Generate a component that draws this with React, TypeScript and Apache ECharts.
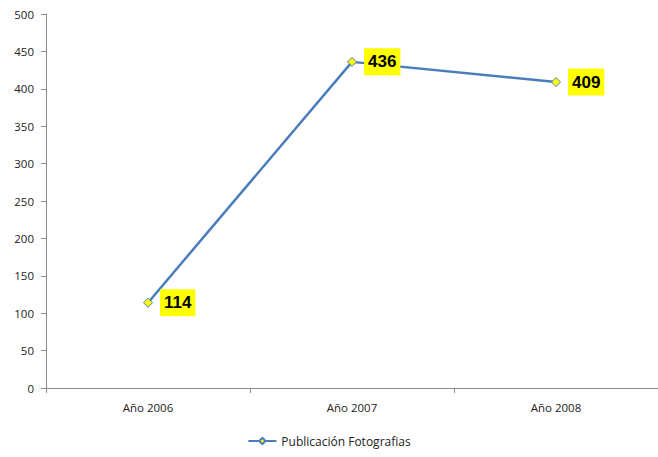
import React, { useEffect, useRef } from "react";
import * as echarts from "echarts";

const categories = ["Año 2006", "Año 2007", "Año 2008"];
const seriesName = "Publicación Fotografias";
const values = [114, 436, 409];
const yTicks = { min: 0, max: 500, interval: 50 };

export default function App() {
  const ref = useRef<HTMLDivElement>(null);
  useEffect(() => {
    const chart = echarts.init(ref.current!, null, { renderer: "svg" });
    const font = "'Open Sans', 'Noto Sans', sans-serif";
    chart.setOption({
      animation: false,
      textStyle: { fontFamily: font },
      grid: { left: 46, width: 620, top: 14, height: 374, containLabel: false },
      xAxis: {
        type: "category",
        data: categories,
        axisLine: { lineStyle: { color: "#8c8c8c", width: 1 } },
        axisTick: { show: true, alignWithLabel: false, length: 5, lineStyle: { color: "#8c8c8c" } },
        axisLabel: { color: "#222", fontSize: 11.5, margin: 13, fontFamily: font },
      },
      yAxis: {
        type: "value",
        min: yTicks.min,
        max: yTicks.max,
        interval: yTicks.interval,
        splitLine: { show: false },
        axisLine: { show: true, lineStyle: { color: "#8c8c8c", width: 1 } },
        axisTick: { show: true, length: 5, lineStyle: { color: "#8c8c8c" } },
        axisLabel: { color: "#222", fontSize: 11.5, margin: 12, fontFamily: font },
      },
      legend: {
        bottom: 5,
        left: "center",
        itemWidth: 28,
        itemHeight: 8,
        itemGap: 4,
        textStyle: { fontSize: 12, color: "#222", fontFamily: font },
        data: [seriesName],
      },
      series: [
        {
          name: seriesName,
          type: "line",
          data: values,
          symbol: "diamond",
          symbolSize: 9,
          lineStyle: { color: "#4a7ebb", width: 2.5 },
          itemStyle: { color: "#ffff00", borderColor: "#4a7ebb", borderWidth: 1 },
          label: {
            show: true,
            position: "right",
            distance: 7,
            color: "#000",
            fontWeight: "bold",
            fontSize: 17,
            lineHeight: 18,
            fontFamily: "'Liberation Sans', 'Open Sans', sans-serif",
            backgroundColor: "#ffff00",
            padding: [5, 4, 4, 4],
          },
        },
      ],
    });
    return () => chart.dispose();
  }, []);
  return <div ref={ref} style={{ width: 658, height: 457, position: "absolute", left: 0, top: 0 }} />;
}
